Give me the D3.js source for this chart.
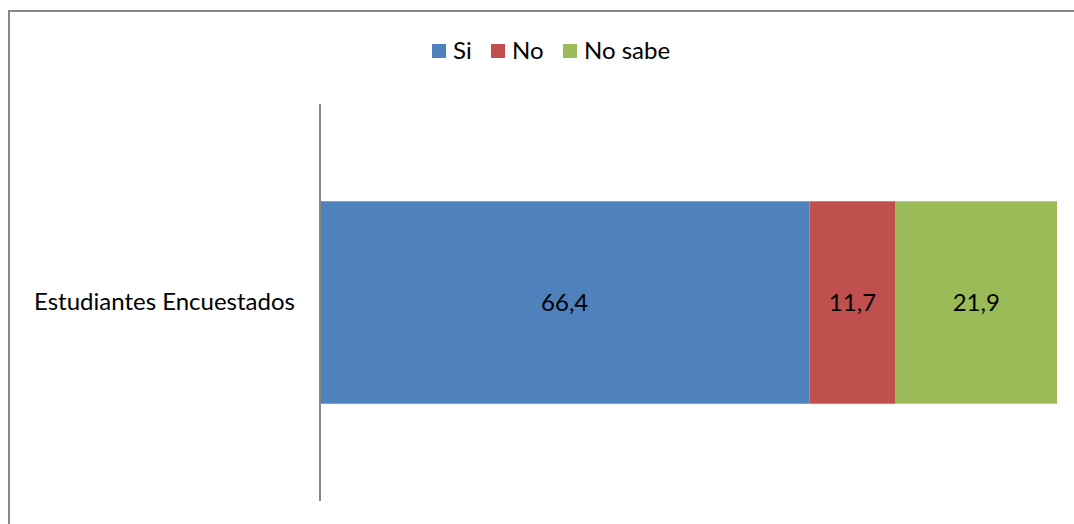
<!DOCTYPE html>
<html>
<head>
<meta charset="utf-8">
<script src="https://cdn.jsdelivr.net/npm/d3@7"></script>
<style>
  body { margin: 0; background: #fff; }
  text { font-family: Lato, "Open Sans", sans-serif; fill: #000; }
</style>
</head>
<body>
<div id="chart"></div>
<script>
const AREA_WIDTH = 1074;
const AREA_HEIGHT = 524;

const categories = ['Estudiantes Encuestados'];
const seriesNames = ['Si', 'No', 'No sabe'];
const seriesColors = ['#4f81bd', '#c0504d', '#9bbb59'];
const siValues = [66.4];
const noValues = [11.7];
const noSabeValues = [21.9];
const valueLabels = [['66,4'], ['11,7'], ['21,9']];

const rows = categories.map((c, i) => ({
  category: c,
  'Si': siValues[i],
  'No': noValues[i],
  'No sabe': noSabeValues[i]
}));

const svg = d3.select('#chart')
              .append('svg')
              .attr('width', AREA_WIDTH)
              .attr('height', AREA_HEIGHT);

// outer chart border (runs off right and bottom edges)
svg.append('rect')
     .attr('x', 9)
     .attr('y', 11)
     .attr('width', AREA_WIDTH + 10)
     .attr('height', AREA_HEIGHT + 10)
     .attr('fill', 'none')
     .attr('stroke', '#868686')
     .attr('stroke-width', 2);

const x = d3.scaleLinear()
              .domain([0, 100])
              .range([320, 1057]);

const y = d3.scaleBand()
              .domain(categories)
              .range([104, 501])
              .paddingInner(0.49)
              .paddingOuter(0.245);

const stack = d3.stack().keys(seriesNames)(rows);

svg.selectAll('g.series')
     .data(stack)
     .enter()
     .append('g')
     .attr('class', 'series')
     .attr('fill', (d, i) => seriesColors[i])
     .selectAll('rect')
     .data(d => d)
     .enter()
     .append('rect')
     .attr('x', d => x(d[0]))
     .attr('y', d => y(d.data.category))
     .attr('width', d => x(d[1]) - x(d[0]))
     .attr('height', y.bandwidth());

// value labels
stack.forEach((s, si) => {
  svg.selectAll(null)
       .data(s)
       .enter()
       .append('text')
       .attr('x', d => (x(d[0]) + x(d[1])) / 2)
       .attr('y', d => y(d.data.category) + y.bandwidth() / 2)
       .attr('dy', '0.35em')
       .attr('text-anchor', 'middle')
       .style('font-size', '24px')
       .text((d, i) => valueLabels[si][i]);
});

// category axis
const yAxis = svg.append('g')
                   .attr('transform', 'translate(320,0)')
                   .call(d3.axisLeft(y).tickSize(0).tickPadding(25));
yAxis.select('.domain')
       .attr('stroke', '#868686')
       .attr('stroke-width', 2)
       .attr('d', 'M0,104V501');
yAxis.selectAll('.tick text')
       .style('font-size', '24px')
       .attr('fill', '#000');

// legend
const legendPos = [432, 491, 563];
const legend = svg.append('g');
seriesNames.forEach((name, i) => {
  legend.append('rect')
          .attr('x', legendPos[i])
          .attr('y', 44)
          .attr('width', 14)
          .attr('height', 14)
          .attr('fill', seriesColors[i]);
  legend.append('text')
          .attr('x', legendPos[i] + 21)
          .attr('y', 59)
          .style('font-size', '24px')
          .text(name);
});
</script>
</body>
</html>
